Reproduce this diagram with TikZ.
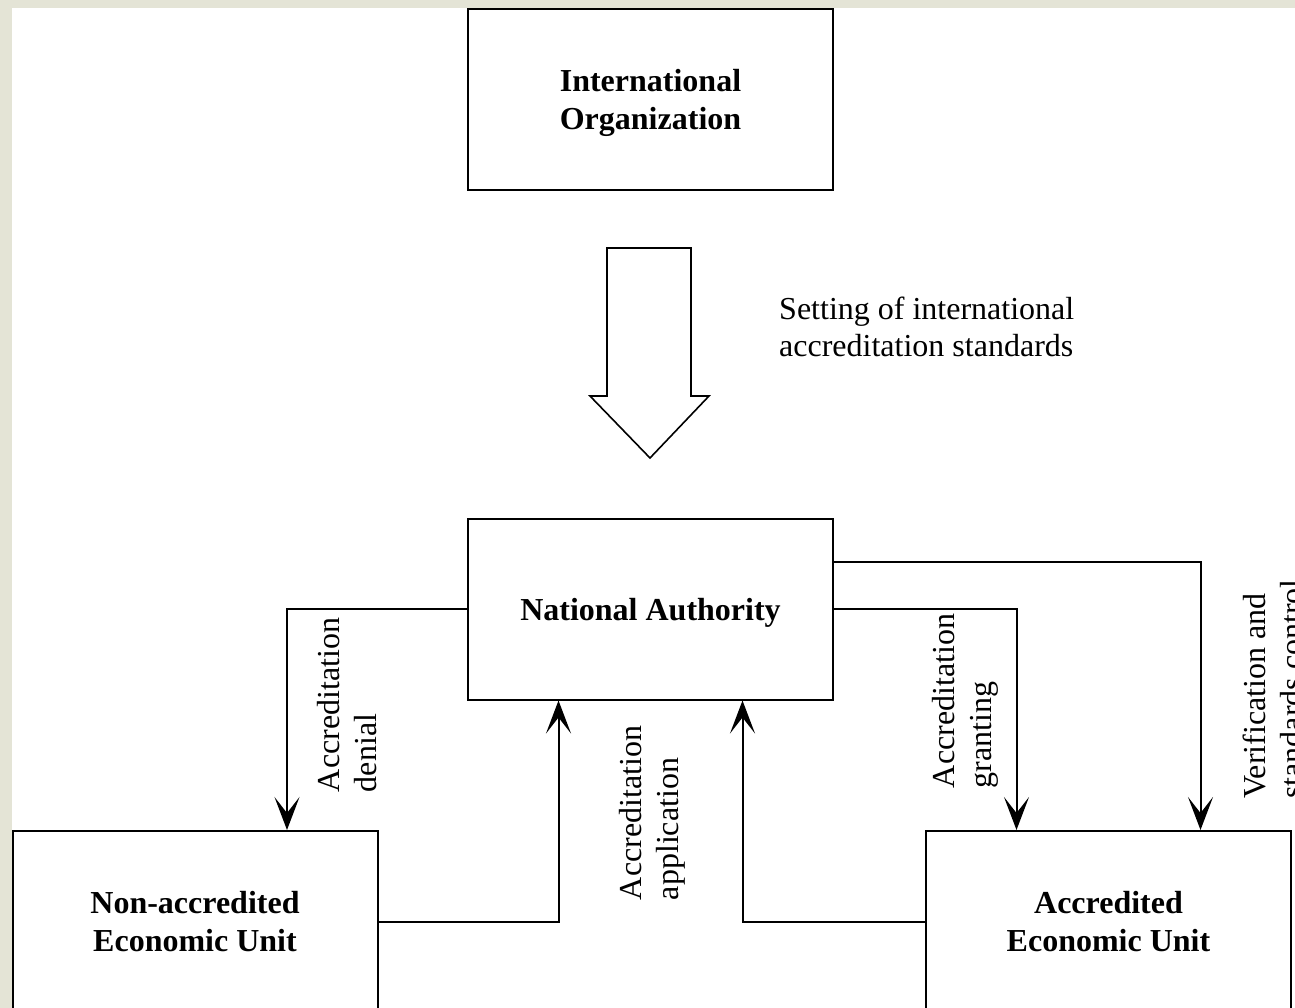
\documentclass[tikz,border=0pt]{standalone}
\usepackage{fontspec}
\setmainfont{Liberation Serif}
\usetikzlibrary{arrows.meta}
\definecolor{pagebeige}{RGB}{228,228,214}
\begin{document}
\begin{tikzpicture}[x=1pt, y=-1pt,
    box/.style={draw, line width=2pt, minimum width=365pt, minimum height=181pt,
        inner sep=0pt, align=center, text depth=-6pt, font=\fontsize{32}{38.5}\selectfont\bfseries},
    lbl/.style={inner sep=0pt, align=left, font=\fontsize{32}{37}\selectfont},
    flow/.style={line width=2pt, -{Stealth[length=33pt, width=25pt, inset=16pt]}}]
    \useasboundingbox (0,0) rectangle (1295,1008);
    \clip (0,0) rectangle (1295,1008);
    \fill[pagebeige] (0,0) rectangle (1295,1008);
    \fill[white] (12,8) rectangle (1295,1008);
    \node[box] (intorg) at (650.5,99.5) {International\\Organization};
    \node[box] (natauth) at (650.5,609) {National Authority};
    \node[box] (nonacc) at (195,921.5) {Non-accredited\\Economic Unit};
    \node[box] (acc) at (1108.5,921.5) {Accredited\\Economic Unit};
    \draw[line width=1.6pt]
        (607,248) -- (691,248) -- (691,396) -- (709,396) -- (650,458) -- (590,396) -- (607,396) -- cycle;
    \node[lbl, anchor=west] (setting) at (779,327) {Setting of international\\accreditation standards};
    \draw[flow] (natauth.west) -| ([xshift=92pt]nonacc.north);
    \draw[flow] (nonacc.east) -| ([xshift=-92pt]natauth.south);
    \draw[flow] (acc.west) -| ([xshift=92pt]natauth.south);
    \draw[flow] (natauth.east) -| ([xshift=-92pt]acc.north);
    \draw[flow] ([yshift=47pt]natauth.east) -| ([xshift=92pt]acc.north);
    \node[lbl, rotate=90] (denial) at (347,705) {Accreditation\\denial};
    \node[lbl, rotate=90] (applic) at (652,813) {Accreditation\\application};
    \node[lbl, rotate=90] (granting) at (965,701) {Accreditation\\granting};
    \node[lbl, rotate=90] (verif) at (1273,689) {Verification and\\standards control};
\end{tikzpicture}
\end{document}
